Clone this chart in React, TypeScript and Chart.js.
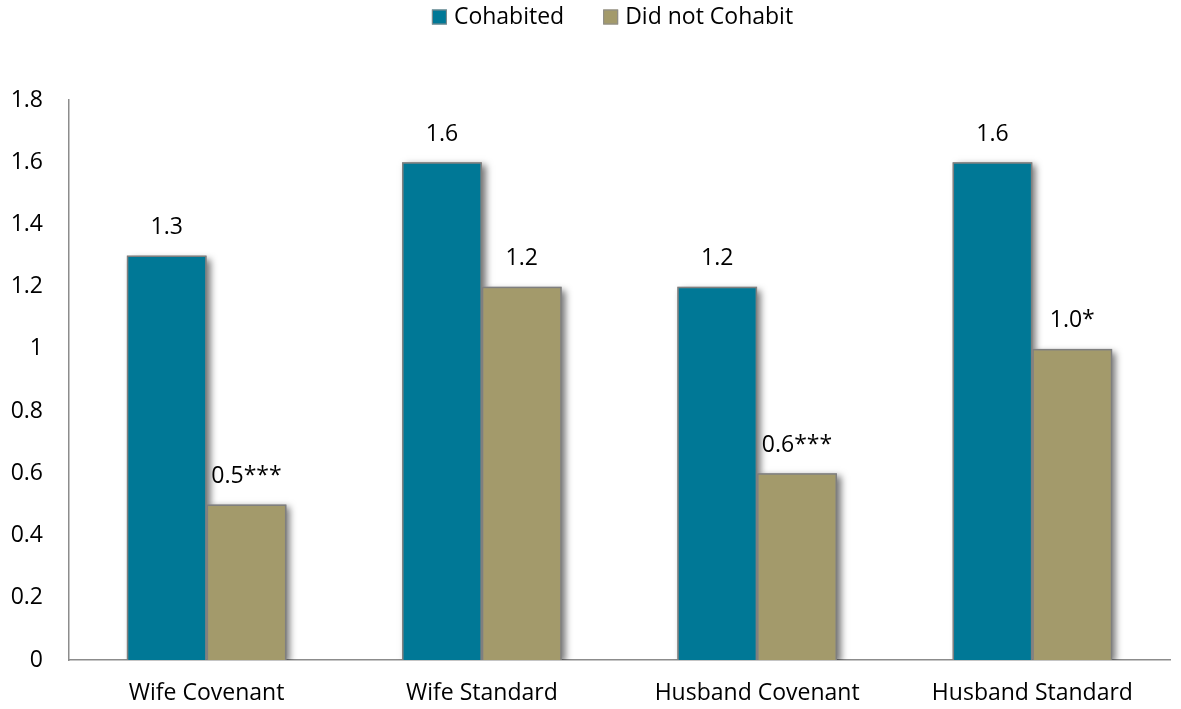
import React, { useEffect, useRef } from "react";
import { Chart, registerables } from "chart.js";

Chart.register(...registerables);

const categories = ["Wife Covenant", "Wife Standard", "Husband Covenant", "Husband Standard"];
const seriesNames = ["Cohabited", "Did not Cohabit"];
const cohabited = [1.3, 1.6, 1.2, 1.6];
const didNotCohabit = [0.5, 1.2, 0.6, 1.0];
const cohabitedMarks = ["", "", "", ""];
const didNotCohabitMarks = ["***", "", "***", "*"];

const FONT = "'Open Sans', sans-serif";
const FONT_SIZE = 23;
const TEAL = "#007896";
const KHAKI = "#a39a6b";

// Soft drop shadow behind every bar, offset to the lower right.
const barShadow = {
  id: "barShadow",
  beforeDatasetsDraw(chart: any) {
    const ctx = chart.ctx;
    const area = chart.chartArea;
    ctx.save();
    ctx.beginPath();
    ctx.rect(area.left, area.top - 20, area.right - area.left + 20, area.bottom - area.top + 20);
    ctx.clip();
    ctx.shadowColor = "rgba(0,0,0,0.55)";
    ctx.shadowBlur = 7;
    ctx.shadowOffsetX = 4;
    ctx.shadowOffsetY = 3;
    ctx.fillStyle = "#888";
    chart.data.datasets.forEach((_: any, di: number) => {
      chart.getDatasetMeta(di).data.forEach((bar: any) => {
        const p = bar.getProps(["x", "y", "base", "width"], true);
        ctx.fillRect(p.x - p.width / 2, p.y, p.width, p.base - p.y);
      });
    });
    ctx.restore();
  },
};

// Value labels above each bar, with significance marks.
const valueLabels = {
  id: "valueLabels",
  afterDatasetsDraw(chart: any) {
    const ctx = chart.ctx;
    ctx.save();
    ctx.font = `${FONT_SIZE}px ${FONT}`;
    ctx.fillStyle = "#000";
    ctx.textAlign = "center";
    ctx.textBaseline = "middle";
    const marks = [cohabitedMarks, didNotCohabitMarks];
    chart.data.datasets.forEach((ds: any, di: number) => {
      const meta = chart.getDatasetMeta(di);
      meta.data.forEach((bar: any, i: number) => {
        const v = ds.data[i] as number;
        ctx.fillText(v.toFixed(1) + marks[di][i], bar.x, bar.y - 28);
      });
    });
    ctx.restore();
  },
};

// Legend row across the top of the canvas.
const topLegend = {
  id: "topLegend",
  afterDraw(chart: any) {
    const ctx = chart.ctx;
    ctx.save();
    ctx.font = `${FONT_SIZE}px ${FONT}`;
    ctx.textBaseline = "middle";
    ctx.textAlign = "left";
    const box = 15;
    const gapText = 7;
    const gapItem = 39;
    const colors = [TEAL, KHAKI];
    const widths = seriesNames.map((n) => box + gapText + ctx.measureText(n).width);
    const total = widths.reduce((a, b) => a + b, 0) + gapItem * (widths.length - 1);
    let x = (chart.width - total) / 2 + 22;
    const cy = 17;
    seriesNames.forEach((name, i) => {
      ctx.fillStyle = colors[i];
      ctx.fillRect(x, cy - box / 2, box, box);
      ctx.strokeStyle = "#8c8c8c";
      ctx.lineWidth = 1;
      ctx.strokeRect(x + 0.5, cy - box / 2 + 0.5, box - 1, box - 1);
      ctx.fillStyle = "#000";
      ctx.fillText(name, x + box + gapText, cy);
      x += widths[i] + gapItem;
    });
    ctx.restore();
  },
};

export default function App() {
  const ref = useRef<HTMLCanvasElement>(null);

  useEffect(() => {
    if (!ref.current) return;
    const chart = new Chart(ref.current, {
      type: "bar",
      data: {
        labels: categories,
        datasets: [
          {
            label: seriesNames[0],
            data: cohabited,
            backgroundColor: TEAL,
            borderColor: "#7f7f7f",
            borderWidth: 1.5,
          },
          {
            label: seriesNames[1],
            data: didNotCohabit,
            backgroundColor: KHAKI,
            borderColor: "#7f7f7f",
            borderWidth: 1.5,
          },
        ],
      },
      options: {
        animation: false,
        responsive: false,
        maintainAspectRatio: false,
        layout: { padding: { top: 100, right: 11, bottom: 0, left: 0 } },
        datasets: {
          bar: { categoryPercentage: 0.58, barPercentage: 1.0 },
        },
        plugins: {
          tooltip: { enabled: false },
          legend: { display: false },
        },
        scales: {
          x: {
            grid: { display: false, drawTicks: false },
            border: { display: true, color: "#8c8c8c", width: 1.5 },
            ticks: {
              font: { family: FONT, size: FONT_SIZE },
              color: "#000",
              padding: 20,
              maxRotation: 0,
            },
            afterFit(scale: any) {
              scale.height = 49;
            },
          },
          y: {
            min: 0,
            max: 1.8,
            grid: { display: false, drawTicks: false },
            border: { display: true, color: "#8c8c8c", width: 1.5 },
            ticks: {
              stepSize: 0.2,
              font: { family: FONT, size: FONT_SIZE },
              color: "#000",
              padding: 26,
              callback: (v: any) => String(Number(Number(v).toFixed(1))),
            },
            afterFit(scale: any) {
              scale.width = 69;
            },
          },
        },
      },
      plugins: [barShadow, valueLabels, topLegend],
    });
    return () => chart.destroy();
  }, []);

  return (
    <div style={{ position: "fixed", left: 0, top: 0, width: 1181, height: 709, background: "#fff" }}>
      <canvas ref={ref} width={1181} height={709} style={{ display: "block" }} />
    </div>
  );
}
